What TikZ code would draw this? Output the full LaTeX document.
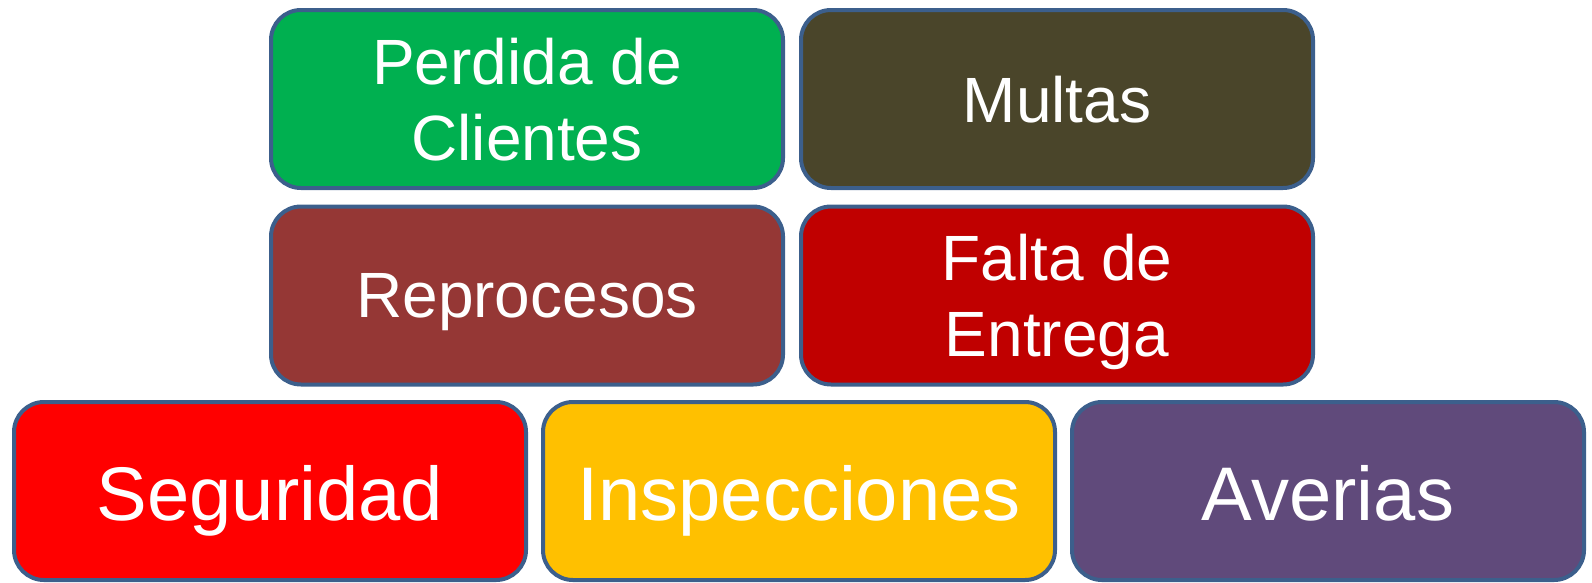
\documentclass[tikz,border=0pt]{standalone}
\usepackage{fontspec}
\setmainfont{Liberation Sans}
\usepackage{tikz}
\usetikzlibrary{positioning}
\definecolor{boxline}{HTML}{3C5F8C}
\definecolor{clientgreen}{HTML}{00B050}
\definecolor{multaolive}{HTML}{4A452A}
\definecolor{reprobrown}{HTML}{953735}
\definecolor{entregared}{HTML}{C00000}
\definecolor{segured}{HTML}{FF0000}
\definecolor{inspyellow}{HTML}{FFC000}
\definecolor{averpurple}{HTML}{604A7B}

\tikzset{
  costbox/.style={draw=boxline, line width=4pt, rounded corners=30pt,
    minimum width=512pt, minimum height=178pt, text=white, align=center,
    text depth=0pt, font=\fontsize{64}{76}\selectfont},
  bigbox/.style={costbox, text height=58pt, font=\fontsize{76}{88}\selectfont}
}

\begin{document}
\begin{tikzpicture}[x=1pt, y=-1pt]
  \useasboundingbox (0,0) rectangle (1592,582);
  \node[costbox, fill=clientgreen] (clientes) at (527,99) {Perdida de\\Clientes};
  \node[costbox, fill=multaolive] (multas) at (1057,99) {Multas};
  \node[costbox, fill=reprobrown] (reprocesos) at (527,295.5) {Reprocesos};
  \node[costbox, fill=entregared] (entrega) at (1057,295.5) {Falta de\\Entrega};
  \node[bigbox, fill=segured] (seguridad) at (270,491) {Seguridad};
  \node[bigbox, fill=inspyellow] (inspecciones) at (799,491) {Inspecciones};
  \node[bigbox, fill=averpurple] (averias) at (1328,491) {Averias};
\end{tikzpicture}
\end{document}
